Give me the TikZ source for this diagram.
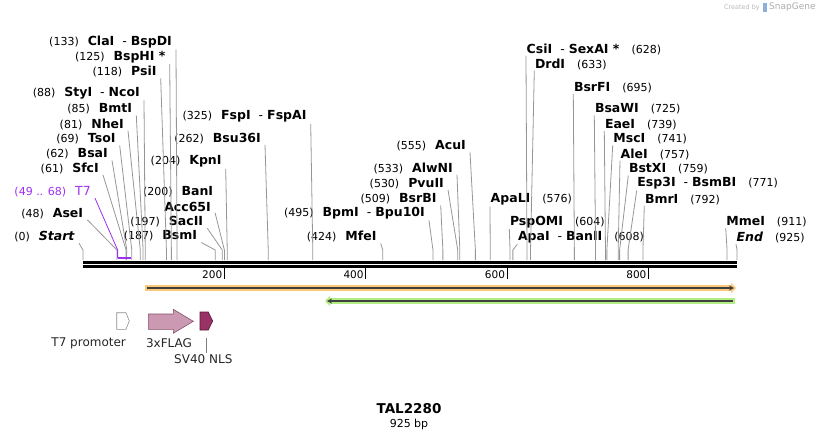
\documentclass[tikz,border=0pt]{standalone}
\usepackage{fontspec}
\setmainfont{DejaVu Sans}
\usepackage{xcolor}
\usepackage{tikz}
\usetikzlibrary{arrows.meta, calc}

\definecolor{sitegray}{RGB}{150,150,150}
\definecolor{t7purple}{RGB}{160,48,240}
\definecolor{orfor}{RGB}{250,200,120}
\definecolor{orfgr}{RGB}{178,238,130}
\definecolor{flagpink}{RGB}{204,153,179}
\definecolor{flagline}{RGB}{130,80,105}
\definecolor{nlsred}{RGB}{153,51,102}
\definecolor{nlsline}{RGB}{90,25,55}

\newcommand{\pos}[1]{{\fontsize{11}{13}\selectfont(#1)}}
\newcommand{\enz}[1]{\textbf{#1}}
\newcommand{\dsh}{\hspace{8pt}-\hspace{4pt}}

\begin{document}
\begin{tikzpicture}[
    x=1pt, y=-1pt,
    lsite/.style={anchor=east, inner xsep=4pt, inner ysep=1pt, font=\fontsize{12.5}{14}\selectfont},
    rsite/.style={anchor=west, inner xsep=0.5pt, inner ysep=1pt, font=\fontsize{12.5}{14}\selectfont},
    cut/.style={draw=sitegray, line width=0.8pt},
    strand/.style={line width=2.6pt},
    feat/.style={font=\fontsize{12}{14}\selectfont, text=black!85, inner sep=1pt},
    flag/.style={draw=flagline, fill=flagpink, line width=0.6pt},
    nls/.style={draw=nlsline, fill=nlsred, line width=0.6pt}
]
\useasboundingbox (0,0) rectangle (820,440);

% Sites on the map
\foreach \p in {0,48,49,61,62,68,69,81,85,88,118,125,133,187,197,200,204,262,325,424,495,509,530,533,555,576,604,608,628,633,695,725,739,741,757,759,771,792,911,925}
    \coordinate (s\p) at ({83+0.707*\p},260);

% Map
\draw[strand] (83,262.3) -- (737,262.3);
\draw[strand] (83,266.3) -- (737,266.3);
\foreach \t in {200,400,600,800} {
    \draw[line width=1.3pt] ({83+0.707*\t},267) -- ({83+0.707*\t},279);
    \node[anchor=east, inner sep=0pt, font=\fontsize{10.5}{12}\selectfont] at ({83+0.707*\t-2},275) {\t};
}

% Left sites
\node (cla) [lsite] at (176,42.3) {\pos{133}\hspace{9pt}\enz{ClaI}\dsh\enz{BspDI}};
\node (bsph) [lsite] at (169.7,56.7) {\pos{125}\hspace{9pt}\enz{BspHI *}};
\node (psi) [lsite] at (160.7,71.7) {\pos{118}\hspace{9pt}\enz{PsiI}};
\node (sty) [lsite] at (144,93.3) {\pos{88}\hspace{9pt}\enz{StyI}\dsh\enz{NcoI}};
\node (bmt) [lsite] at (136.3,109) {\pos{85}\hspace{9pt}\enz{BmtI}};
\node (nhe) [lsite] at (128,124) {\pos{81}\hspace{9pt}\enz{NheI}};
\node (tso) [lsite] at (119.7,139) {\pos{69}\hspace{9pt}\enz{TsoI}};
\node (bsa) [lsite] at (112,154) {\pos{62}\hspace{9pt}\enz{BsaI}};
\node (sfc) [lsite] at (103,168.3) {\pos{61}\hspace{9pt}\enz{SfcI}};
\node (t7) [lsite, text=t7purple] at (95,191.7) {\pos{49 .. 68}\hspace{9pt}T7};
\node (ase) [lsite] at (87.3,213.3) {\pos{48}\hspace{9pt}\enz{AseI}};
\node (start) [lsite] at (79,236.7) {\pos{0}\hspace{9pt}\textbf{\textit{Start}}};

% Middle sites
\node (kpn) [lsite] at (225.7,161.7) {\pos{204}\hspace{9pt}\enz{KpnI}};
\node (ban) [lsite] at (217.3,191.7) {\pos{200}\hspace{9pt}\enz{BanI}};
\node (acc) [lsite] at (215,206.7) {\enz{Acc65I}};
\node (sac) [lsite] at (207.3,221.7) {\pos{197}\hspace{9pt}\enz{SacII}};
\node (bsm) [lsite] at (201.3,236) {\pos{187}\hspace{9pt}\enz{BsmI}};
\node (bsu) [lsite] at (265,138.3) {\pos{262}\hspace{9pt}\enz{Bsu36I}};
\node (fsp) [lsite] at (310.7,116.7) {\pos{325}\hspace{9pt}\enz{FspI}\dsh\enz{FspAI}};
\node (bpm) [lsite] at (429,213.3) {\pos{495}\hspace{9pt}\enz{BpmI}\dsh\enz{Bpu10I}};
\node (mfe) [lsite] at (380.7,236.7) {\pos{424}\hspace{9pt}\enz{MfeI}};
\node (bsrb) [lsite] at (440.7,199) {\pos{509}\hspace{9pt}\enz{BsrBI}};
\node (pvu) [lsite] at (448,183.3) {\pos{530}\hspace{9pt}\enz{PvuII}};
\node (alwn) [lsite] at (457,168) {\pos{533}\hspace{9pt}\enz{AlwNI}};
\node (acu) [lsite] at (470,146) {\pos{555}\hspace{9pt}\enz{AcuI}};

% Right sites
\node (csi) [rsite] at (526,49.3) {\enz{CsiI}\dsh\enz{SexAI *}\hspace{12pt}\pos{628}};
\node (drd) [rsite] at (534.3,64) {\enz{DrdI}\hspace{12pt}\pos{633}};
\node (bsrf) [rsite] at (573.3,87.3) {\enz{BsrFI}\hspace{12pt}\pos{695}};
\node (bsaw) [rsite] at (594.3,109) {\enz{BsaWI}\hspace{12pt}\pos{725}};
\node (eae) [rsite] at (604.3,124.3) {\enz{EaeI}\hspace{12pt}\pos{739}};
\node (msc) [rsite] at (612.7,139) {\enz{MscI}\hspace{12pt}\pos{741}};
\node (ale) [rsite] at (620,154) {\enz{AleI}\hspace{12pt}\pos{757}};
\node (bstx) [rsite] at (628.3,169) {\enz{BstXI}\hspace{12pt}\pos{759}};
\node (esp) [rsite] at (636.7,183.3) {\enz{Esp3I}\dsh\enz{BsmBI}\hspace{12pt}\pos{771}};
\node (bmr) [rsite] at (644.3,199.3) {\enz{BmrI}\hspace{12pt}\pos{792}};
\node (apal) [rsite] at (490,199.3) {\enz{ApaLI}\hspace{12pt}\pos{576}};
\node (psp) [rsite] at (509.3,221.7) {\enz{PspOMI}\hspace{12pt}\pos{604}};
\node (apa) [rsite] at (517.3,237.3) {\enz{ApaI}\dsh\enz{BanII}\hspace{12pt}\pos{608}};
\node (mme) [rsite] at (725.7,221.7) {\enz{MmeI}\hspace{12pt}\pos{911}};
\node (endl) [rsite] at (736,237.3) {\textbf{\textit{End}}\hspace{12pt}\pos{925}};

% Cut lines
\foreach \n/\p in {cla/133, bsph/125, psi/118, sty/88, bmt/85, nhe/81, tso/69, bsa/62, sfc/61, ase/48, start/0,
    kpn/204, acc/200, sac/197, bsm/187, bsu/262, fsp/325, bpm/495, mfe/424, bsrb/509, pvu/530, alwn/533, acu/555}
    \draw[cut] (\n.south east) -- ([yshift=10pt]s\p) -- (s\p);
\foreach \n/\p in {csi/628, drd/633, bsrf/695, bsaw/725, eae/739, msc/741, ale/757, bstx/759, esp/771, bmr/792,
    apal/576, psp/604, apa/608, mme/911, endl/925}
    \draw[cut] (\n.south west) -- ([yshift=10pt]s\p) -- (s\p);

% T7 primer
\draw[t7purple, line width=0.8pt] (t7.south east) -- ([yshift=10pt]s49) -- ([yshift=2pt]s49);
\draw[t7purple, line width=1.8pt] ([yshift=2pt]s49) -- ([yshift=2pt]s68);

% ORFs
\draw[orfor, line width=6.5pt, -{Triangle[length=5pt,width=10pt]}] (145,288) -- (736,288);
\draw[black!75, line width=1.2pt, -{Stealth[length=5pt,width=5pt]}] (147,288) -- (734,288);
\draw[orfgr, line width=6.5pt, -{Triangle[length=5pt,width=10pt]}] (735,301) -- (325,301);
\draw[black!75, line width=1.2pt, -{Stealth[length=5pt,width=5pt]}] (733,301) -- (327,301);

% Features
\draw[draw=gray!90, fill=white, line width=0.6pt] (116.7,312.7) -- (126,312.7) -- (129.3,321) -- (126,329.3) -- (116.7,329.3) -- cycle;
\draw[flag] (148.3,314) -- (173.3,314) -- (173.3,309.3) -- (193.3,321.3) -- (173.3,333.3) -- (173.3,329.3) -- (148.3,329.3) -- cycle;
\draw[nls] (200,312) -- (208.3,312) -- (212.7,321) -- (208.3,330) -- (200,330) -- cycle;
\node (t7p) [feat] at (88.7,343) {T7 promoter};
\node (flagl) [feat] at (169,343) {3xFLAG};
\node (nlsl) [feat] at (203.3,359) {SV40 NLS};
\coordinate (nlsfoot) at (206,337.5);
\draw[draw=gray, line width=0.6pt] (nlsfoot) -- (nlsl.north -| nlsfoot);

% Title
\node (title) [font=\bfseries\fontsize{13.5}{16}\selectfont] at (409,409) {TAL2280};
\node (len) [font=\fontsize{11}{13}\selectfont] at (409,424) {925 bp};

% Credit
\node (wm) [anchor=east, inner sep=0pt, text=gray!55, font=\fontsize{6.5}{8}\selectfont] at (760,7.5) {Created by};
\fill[cyan!50!blue!45] (763,2.5) rectangle (766.5,12);
\node (sg) [anchor=west, inner sep=0pt, text=gray!65, font=\fontsize{9}{10}\selectfont] at (769,7.5) {SnapGene};

\end{tikzpicture}
\end{document}
